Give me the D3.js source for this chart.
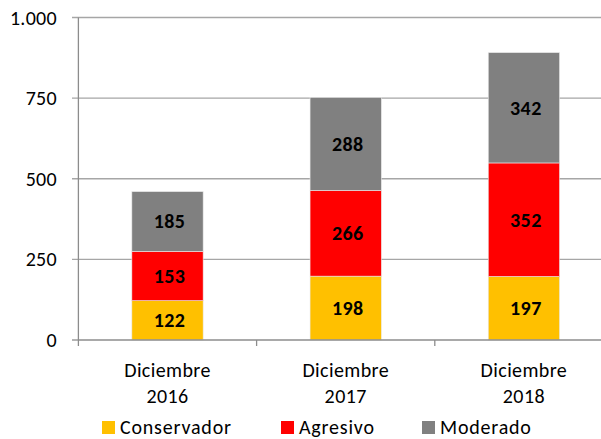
<!DOCTYPE html>
<html><head><meta charset="utf-8">
<script src="https://cdn.jsdelivr.net/npm/d3@7"></script>
<style>
html,body{margin:0;padding:0;background:#fff;}
text{font-family:Carlito,Calibri,Lato,"Open Sans",sans-serif;}
</style></head>
<body><svg id="c" width="601" height="439"></svg>
<script>
const categories = [["Diciembre","2016"],["Diciembre","2017"],["Diciembre","2018"]];
const seriesNames = ["Conservador","Agresivo","Moderado"];
const conservador = [122,198,197];
const agresivo = [153,266,352];
const moderado = [185,288,342];
const colors = ["#FFC000","#FF0000","#808080"];
const yTicks = [0,250,500,750,1000];
const yTickLabels = ["0","250","500","750","1.000"];

const svg = d3.select("#c");
const x0 = 78.4, plotW = 534.6, y0 = 340, y1 = 17.5;
const x = d3.scaleBand().domain([0,1,2]).range([x0, x0+plotW]).paddingInner(0.6).paddingOuter(0.3);
const y = d3.scaleLinear().domain([0,1000]).range([y0,y1]);

const data = categories.map((c,i)=>({i, Conservador:conservador[i], Agresivo:agresivo[i], Moderado:moderado[i]}));
const stack = d3.stack().keys(seriesNames)(data);

svg.append("g").selectAll("line").data(yTicks.filter(d=>d>0)).join("line")
  .attr("x1",72).attr("x2",x0+plotW).attr("y1",d=>y(d)).attr("y2",d=>y(d))
  .attr("stroke","#a6a6a6").attr("stroke-width",1.3);
svg.append("line").attr("x1",72).attr("x2",x0).attr("y1",y(0)).attr("y2",y(0)).attr("stroke","#8c8c8c").attr("stroke-width",1.3);
svg.append("line").attr("x1",x0).attr("x2",x0).attr("y1",y(1000)).attr("y2",y(0)).attr("stroke","#8c8c8c").attr("stroke-width",1.3);

svg.append("g").selectAll("text").data(yTicks).join("text")
  .attr("x",57).attr("y",d=>y(d)).attr("dy","0.35em").attr("text-anchor","end")
  .attr("font-size",20).attr("letter-spacing",0.3).attr("fill","#000").text((d,i)=>yTickLabels[i]);

const g = svg.append("g");
stack.forEach((s,k)=>{
  g.append("g").selectAll("rect").data(s).join("rect")
    .attr("x",d=>x(d.data.i)).attr("width",x.bandwidth())
    .attr("y",d=>y(d[1])).attr("height",d=>y(d[0])-y(d[1]))
    .attr("fill",colors[k]).attr("stroke","#e8e8e8").attr("stroke-width",0.6);
  g.append("g").selectAll("text").data(s).join("text")
    .attr("x",d=>x(d.data.i)+x.bandwidth()/2+2).attr("y",d=>(y(d[0])+y(d[1]))/2)
    .attr("dy","0.35em").attr("text-anchor","middle").attr("font-size",20).attr("font-weight","bold")
    .attr("letter-spacing",0.4).attr("fill","#000").text(d=>d[1]-d[0]);
});

svg.append("line").attr("x1",x0).attr("x2",x0+plotW).attr("y1",y0).attr("y2",y0).attr("stroke","#8c8c8c").attr("stroke-width",1.3);
svg.append("g").selectAll("line").data([0,1,2,3]).join("line")
  .attr("x1",d=>x0+d*plotW/3).attr("x2",d=>x0+d*plotW/3).attr("y1",y0).attr("y2",y0+6)
  .attr("stroke","#8c8c8c").attr("stroke-width",1.3);

const cl = svg.append("g").selectAll("text").data(categories).join("text")
  .attr("text-anchor","middle").attr("font-size",20).attr("letter-spacing",0.4).attr("fill","#000");
cl.append("tspan").attr("x",(d,i)=>x(i)+x.bandwidth()/2).attr("y",377).text(d=>d[0]);
cl.append("tspan").attr("x",(d,i)=>x(i)+x.bandwidth()/2).attr("y",403).text(d=>d[1]);

const legX = [102,281,422];
const lg = svg.append("g").selectAll("g").data(seriesNames).join("g");
lg.append("rect").attr("x",(d,i)=>legX[i]).attr("y",421).attr("width",13).attr("height",13).attr("fill",(d,i)=>colors[i]);
lg.append("text").attr("x",(d,i)=>legX[i]+18).attr("y",434).attr("font-size",20).attr("letter-spacing",0.8).attr("fill","#000").text(d=>d);
</script></body></html>
